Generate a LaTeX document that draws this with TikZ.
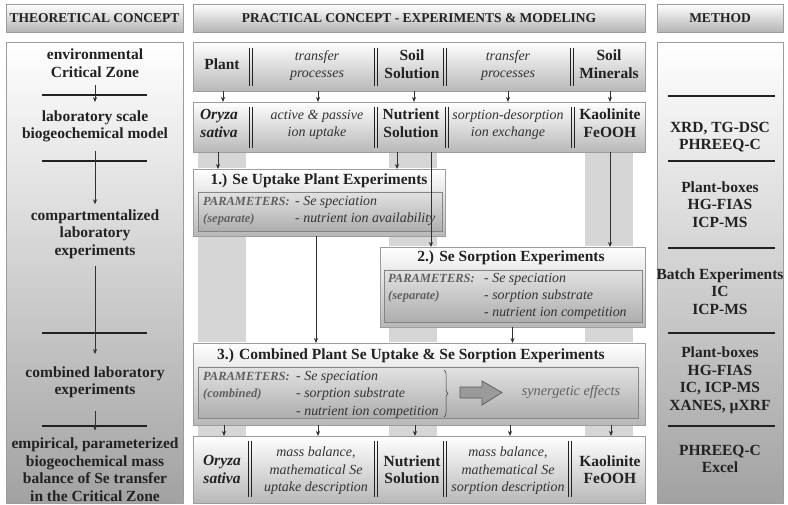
\documentclass[tikz,border=0pt]{standalone}
\usepackage{fontspec}
\setmainfont{Liberation Serif}
\usetikzlibrary{arrows.meta,decorations.pathreplacing}
\definecolor{txt}{HTML}{222222}
\definecolor{itx}{HTML}{333333}
\definecolor{ptx}{HTML}{606060}
\definecolor{bord}{HTML}{9C9C9C}
\definecolor{band}{HTML}{D6D6D6}
\definecolor{arrc}{HTML}{303030}
\definecolor{hbot}{HTML}{B4B4B4}
\definecolor{cbot}{HTML}{A2A2A2}
\definecolor{rbot}{HTML}{B8B8B8}
\definecolor{pbot}{HTML}{AEAEAE}
\definecolor{ptop}{HTML}{E2E2E2}
\definecolor{bigarr}{HTML}{9A9A9A}
\newcommand\dblbar[3]{\draw[dbar] (#1-1.6,#2) -- (#1-1.6,#3); \draw[dbar] (#1+1.6,#2) -- (#1+1.6,#3);}
\tikzset{
 boxs/.style={draw=bord, line width=0.8pt, anchor=north west, inner sep=0pt, outer sep=0pt},
 hdr/.style={boxs, top color=white, bottom color=hbot, font=\fontsize{13.5}{16}\selectfont\bfseries, text=txt},
 colbody/.style={boxs, top color=white, bottom color=cbot},
 rowbox/.style={boxs, top color=white, bottom color=rbot},
 expbox/.style={boxs, top color=white, bottom color=rbot},
 parbox/.style={boxs, draw=bord!85!black, top color=ptop, bottom color=pbot},
 bt/.style={font=\fontsize{15.5}{17.5}\selectfont\bfseries, text=txt, align=center, inner sep=0pt, execute at begin node=\strut, execute at end node=\strut},
 bit/.style={bt, font=\fontsize{15.5}{17.5}\selectfont\bfseries\itshape},
 itx/.style={font=\fontsize{14}{17.5}\selectfont\itshape, text=itx, align=center, inner sep=0pt, execute at begin node=\strut, execute at end node=\strut},
 ttl/.style={font=\fontsize{15.5}{18}\selectfont\bfseries, text=txt, inner sep=0pt, execute at begin node=\strut},
 pk/.style={font=\fontsize{12.5}{17}\selectfont\bfseries\itshape, text=ptx, anchor=base west, inner sep=0pt},
 pv/.style={font=\fontsize{13.9}{17}\selectfont\itshape, text=itx, anchor=base west, inner sep=0pt},
 arr/.style={draw=arrc, line width=0.6pt, -{Stealth[length=5pt,width=4pt]}},
 sepl/.style={draw=txt, line width=1.6pt},
 dbar/.style={draw=txt, line width=1pt},
}
\begin{document}
\begin{tikzpicture}[x=1pt,y=-1pt]
\useasboundingbox (0,0) rectangle (788,505);
\fill[white] (0,0) rectangle (788,505);
% headers
\node[hdr, minimum width=177pt, minimum height=28pt] (h1) at (6,4) {THEORETICAL CONCEPT};
\node[hdr, minimum width=452pt, minimum height=28pt] (h2) at (193,4) {PRACTICAL CONCEPT - EXPERIMENTS \& MODELING};
\node[hdr, minimum width=126pt, minimum height=28pt] (h3) at (657,4) {METHOD};
% side columns
\node[colbody, minimum width=177pt, minimum height=461pt] (c1) at (6,42) {};
\node[colbody, minimum width=126pt, minimum height=461pt] (c3) at (657,42) {};
% bands
\fill[band] (198,152) rectangle (246,436);
\fill[band] (389,152) rectangle (437,436);
\fill[band] (585,152) rectangle (633,436);
% middle boxes
\node[rowbox, minimum width=452pt, minimum height=49pt] (r1) at (193,42) {};
\node[rowbox, minimum width=452pt, minimum height=50pt] (r2) at (193,102) {};
\node[expbox, minimum width=252pt, minimum height=67pt] (b1) at (193,169) {};
\node[parbox, minimum width=244pt, minimum height=39pt] (b1p) at (198,192) {};
\node[expbox, minimum width=265pt, minimum height=80pt] (b2) at (380,247) {};
\node[parbox, minimum width=258pt, minimum height=52pt] (b2p) at (384,270) {};
\node[expbox, minimum width=452pt, minimum height=82pt] (b3) at (193,343) {};
\node[parbox, minimum width=440pt, minimum height=51pt] (b3p) at (198,367) {};
\node[rowbox, minimum width=452pt, minimum height=67pt] (r4) at (193,436) {};
% double bars
\dblbar{251}{48}{86}\dblbar{376}{48}{86}\dblbar{445}{48}{86}\dblbar{572}{48}{86}
\dblbar{251}{107}{148}\dblbar{376}{107}{148}\dblbar{447}{107}{148}\dblbar{573}{107}{148}
\dblbar{250}{441}{497}\dblbar{376}{441}{497}\dblbar{445}{441}{497}\dblbar{570}{441}{497}
% row 1
\node[bt] (plant) at (222,66) {Plant};
\node[itx] (tp1) at (317,66.5) {transfer\\processes};
\node[bt] (soilsol) at (412,66.5) {Soil\\Solution};
\node[itx] (tp2) at (508,66.5) {transfer\\processes};
\node[bt] (soilmin) at (609,66.5) {Soil\\Minerals};
% row 2
\node[bit] (oryza) at (219,126) {Oryza\\sativa};
\node[itx] (act) at (317,126) {active \& passive\\ion uptake};
\node[bt] (nutr) at (411,126) {Nutrient\\Solution};
\node[itx] (sorp) at (508,126) {sorption-desorption\\ion exchange};
\node[bt] (kao) at (610,126) {Kaolinite\\FeOOH};
% experiment 1
\node[ttl] (t1) at (319,181) {1.) Se Uptake Plant Experiments};
\node[pk] (p1k) at (203,206) {PARAMETERS:};
\node[pk] (p1s) at (203,223) {(separate)};
\node[pv] (p1a) at (295,206) {- Se speciation};
\node[pv] (p1b) at (295,223) {- nutrient ion availability};
% experiment 2
\node[ttl] (t2) at (511,258) {2.) Se Sorption Experiments};
\node[pk] (p2k) at (388,283) {PARAMETERS:};
\node[pk] (p2s) at (388,300) {(separate)};
\node[pv] (p2a) at (484,283) {- Se speciation};
\node[pv] (p2b) at (484,300) {- sorption substrate};
\node[pv] (p2c) at (484,317) {- nutrient ion competition};
% experiment 3
\node[ttl] (t3) at (411,356) {3.) Combined Plant Se Uptake \& Se Sorption Experiments};
\node[pk] (p3k) at (203,381) {PARAMETERS:};
\node[pk] (p3s) at (203,398) {(combined)};
\node[pv] (p3a) at (296,381) {- Se speciation};
\node[pv] (p3b) at (296,398) {- sorption substrate};
\node[pv] (p3c) at (296,415) {- nutrient ion competition};
\draw[draw=itx, line width=0.5pt, decorate, decoration={brace, amplitude=4pt}] (444,370) -- (444,417);
\filldraw[fill=bigarr, draw=arrc!80, line width=0.7pt] (460,387) -- (482,387) -- (482,381) -- (502,392.5) -- (482,405) -- (482,398) -- (460,398) -- cycle;
\node[itx, text=ptx, font=\fontsize{14.3}{17.5}\selectfont\itshape] (syn) at (571,392) {synergetic effects};
% bottom row
\node[bit] (oryza4) at (222,472) {Oryza\\sativa};
\node[itx] (mass1) at (316,472) {mass balance,\\mathematical Se\\uptake description};
\node[bt] (nutr4) at (412,472) {Nutrient\\Solution};
\node[itx] (mass2) at (508,472) {mass balance,\\mathematical Se\\sorption description};
\node[bt] (kao4) at (610,472) {Kaolinite\\FeOOH};
% left column
\node[bt] (env) at (95,66) {environmental\\Critical Zone};
\node[bt] (lab) at (95,127) {laboratory scale\\biogeochemical model};
\node[bt] (comp) at (95,235) {compartmentalized\\laboratory\\experiments};
\node[bt] (comb) at (95,383) {combined laboratory\\experiments};
\node[bt] (emp) at (95,472) {empirical, parameterized\\biogeochemical mass\\balance of Se transfer\\in the Critical Zone};
\foreach \yy in {95,161,333,426} \draw[sepl] (42,\yy) -- (147,\yy);
\draw[arr, shorten <=2.5pt, shorten >=8pt] (env) -- (lab);
\draw[arr, shorten <=7.5pt, shorten >=5pt] (lab) -- (comp);
\draw[arr, shorten <=5.5pt, shorten >=12pt] (comp) -- (comb);
\draw[arr, shorten <=11.5pt, shorten >=7pt] (comb) -- (emp);
% right column
\node[bt] (m1) at (720,138.5) {XRD, TG-DSC\\PHREEQ-C};
\node[bt] (m2) at (720,207) {Plant-boxes\\HG-FIAS\\ICP-MS};
\node[bt] (m3) at (720,294) {Batch Experiments\\IC\\ICP-MS};
\node[bt] (m4) at (720,381) {Plant-boxes\\HG-FIAS\\IC, ICP-MS\\XANES, µXRF};
\node[bt] (m5) at (720,461.5) {PHREEQ-C\\Excel};
\foreach \yy in {96,161,248,333,426} \draw[sepl] (668,\yy) -- (775,\yy);
% middle arrows
\draw[arr] ([xshift=1pt]plant.center |- r1.south) -- ([xshift=1pt]plant.center |- r2.north);
\draw[arr] ([xshift=1pt]tp1.center |- r1.south) -- ([xshift=1pt]tp1.center |- r2.north);
\draw[arr] ([xshift=2pt]soilsol.center |- r1.south) -- ([xshift=2pt]soilsol.center |- r2.north);
\draw[arr] (tp2.center |- r1.south) -- (tp2.center |- r2.north);
\draw[arr] ([xshift=1pt]soilmin.center |- r1.south) -- ([xshift=1pt]soilmin.center |- r2.north);
\draw[arr] ([xshift=-1pt]oryza.center |- r2.south) -- ([xshift=-1pt]oryza.center |- b1.north);
\draw[arr] ([xshift=-14pt]nutr.center |- r2.south) -- ([xshift=-14pt]nutr.center |- b1.north);
\draw[arr] ([xshift=20pt]nutr.center |- r2.south) -- ([xshift=20pt]nutr.center |- b2.north);
\draw[arr] (kao.center |- r2.south) -- (kao.center |- b2.north);
\draw[arr] ([xshift=-3pt]b1.south) -- ([xshift=-3pt]b1.south |- b3.north);
\draw[arr] (b2.south) -- (b2.south |- b3.north);
\draw[arr] ([xshift=2pt]oryza4.center |- b3.south) -- ([xshift=2pt]oryza4.center |- r4.north);
\draw[arr] ([xshift=2pt]mass1.center |- b3.south) -- ([xshift=2pt]mass1.center |- r4.north);
\draw[arr] ([xshift=3pt]nutr4.center |- b3.south) -- ([xshift=3pt]nutr4.center |- r4.north);
\draw[arr] ([xshift=2pt]mass2.center |- b3.south) -- ([xshift=2pt]mass2.center |- r4.north);
\draw[arr] ([xshift=1pt]kao4.center |- b3.south) -- ([xshift=1pt]kao4.center |- r4.north);
\end{tikzpicture}
\end{document}
